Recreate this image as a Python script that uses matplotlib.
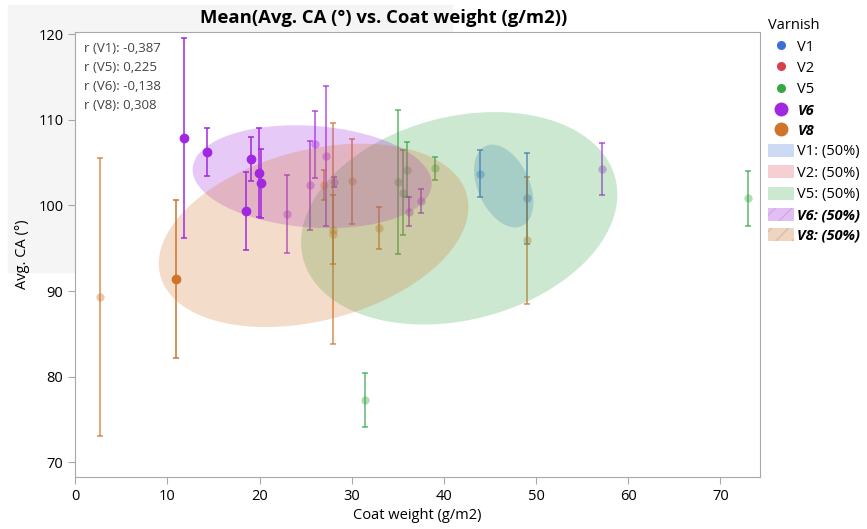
import numpy as np
import matplotlib
matplotlib.use('Agg')
import matplotlib.pyplot as plt
from matplotlib.lines import Line2D
from matplotlib.patches import Patch, Rectangle

plt.rcParams['font.family'] = ['Open Sans', 'DejaVu Sans']

# group means of Avg. CA with error (half bar length), per varnish
v1_x = [43.96, 48.99]
v1_y = [103.71, 100.83]
v1_err = [2.72, 5.33]

v5_x = [31.48, 34.99, 35.6, 35.97, 39.0, 73.0]
v5_y = [77.26, 102.7, 101.5, 104.17, 104.33, 100.86]
v5_err = [3.14, 8.4, 4.92, 3.23, 1.37, 3.2]

v6_x = [11.76, 14.3, 19.07, 19.97, 20.15, 18.56, 22.98, 25.46, 25.98, 27.17, 28.08, 37.49, 36.18, 57.2]
v6_y = [107.87, 106.2, 105.4, 103.83, 102.58, 99.35, 99.0, 102.38, 107.16, 105.76, 102.73, 100.51, 99.28, 104.25]
v6_err = [11.65, 2.8, 2.6, 5.2, 4.05, 4.5, 4.55, 5.2, 3.9, 8.2, 0.6, 1.38, 1.7, 3.03]
v6_sel = [1, 1, 1, 1, 1, 1, 0, 0, 0, 0, 0, 0, 0, 0]

v8_x = [2.68, 10.96, 26.99, 27.97, 27.97, 30.0, 33.0, 48.99]
v8_y = [89.31, 91.41, 102.38, 96.69, 97.19, 102.81, 97.36, 95.93]
v8_err = [16.2, 9.2, 1.75, 12.9, 4.0, 4.95, 2.5, 7.4]
v8_sel = [0, 1, 0, 0, 0, 0, 0, 0]

# 50% density ellipses: centre, half extents, correlation
ell_names = ['V1', 'V5', 'V6', 'V8']
ell_cx = [46.49, 41.66, 25.7, 25.86]
ell_cy = [102.27, 98.5, 103.36, 96.51]
ell_hx = [3.22, 17.16, 12.97, 16.8]
ell_hy = [4.83, 12.4, 6.0, 10.7]
ell_r = [-0.387, 0.225, -0.138, 0.308]

varnishes = ['V1', 'V2', 'V5', 'V6', 'V8']
colors = {'V1': '#3b6fd6', 'V2': '#d8404f', 'V5': '#36a744', 'V6': '#a128e0', 'V8': '#d0742a'}

fig = plt.figure(figsize=(8.67, 5.29), dpi=100)
fig.patches.append(Rectangle((8/867, 1-272/529), 444/867, 267/529, transform=fig.transFigure,
                             color='#f5f5f5', zorder=-1))
ax = fig.add_axes([75.3/867, 1-477/529, (760-75.3)/867, (477-32)/529])

t = np.linspace(0, 2*np.pi, 200)
for n, cx, cy, hx, hy, r in zip(ell_names, ell_cx, ell_cy, ell_hx, ell_hy, ell_r):
    ex = cx + hx*np.cos(t)
    ey = cy + hy*(r*np.cos(t) + np.sqrt(1-r**2)*np.sin(t))
    ax.fill(ex, ey, color=colors[n], alpha=0.25, lw=0, zorder=3)

def draw(xs, ys, errs, name, sel=None):
    c = colors[name]
    if sel is None:
        sel = [0]*len(xs)
    for x, y, e, s in zip(xs, ys, errs, sel):
        if s:
            ax.errorbar(x, y, yerr=e, fmt='o', color=c, ms=6, elinewidth=1.1, capsize=2, capthick=1.1, zorder=4)
        else:
            ax.errorbar(x, y, yerr=e, fmt='none', ecolor=c, alpha=0.8, elinewidth=1.1, capsize=2, capthick=1.1, zorder=2)
            ax.plot(x, y, 'o', color=c, alpha=0.38, ms=6, mew=0, zorder=2)

draw(v1_x, v1_y, v1_err, 'V1')
draw(v5_x, v5_y, v5_err, 'V5')
draw(v6_x, v6_y, v6_err, 'V6', v6_sel)
draw(v8_x, v8_y, v8_err, 'V8', v8_sel)

ax.set_xlim(0, 74.3)
ax.set_ylim(68.3, 120.25)
ax.set_xticks([0, 10, 20, 30, 40, 50, 60, 70])
ax.set_yticks([70, 80, 90, 100, 110, 120])
for s in ax.spines.values():
    s.set_color('#a8a8a8')
ax.tick_params(colors='#a8a8a8', labelcolor='black', labelsize=10.5, length=5)
ax.set_xlabel('Coat weight (g/m2)', fontsize=10.5, labelpad=3)
ax.set_ylabel('Avg. CA (°)', fontsize=10.5, labelpad=6)

r_lines = ['r (V1): -0,387', 'r (V5): 0,225', 'r (V6): -0,138', 'r (V8): 0,308']
for i, s in enumerate(r_lines):
    ax.text(0.013, 0.964 - i*0.0434, s, transform=ax.transAxes, fontsize=9.5, color='#444444', va='center')

fig.text(383.5/867, 1-18/529, 'Mean(Avg. CA (°) vs. Coat weight (g/m2))', ha='center', va='center',
         fontsize=13.3, fontweight='bold')

handles = []
for v in varnishes:
    big = v in ('V6', 'V8')
    handles.append(Line2D([], [], ls='none', marker='o', color=colors[v], ms=9 if big else 5.5))
for v in varnishes:
    if v in ('V6', 'V8'):
        handles.append(Patch(facecolor=colors[v], alpha=0.3, hatch='//', edgecolor='#9a8a9a', lw=0))
    else:
        handles.append(Patch(facecolor=colors[v], alpha=0.25, lw=0))
labels = varnishes + [v + ': (50%)' for v in varnishes]
leg = fig.legend(handles, labels, title='Varnish', loc='upper left', bbox_to_anchor=(758/867, 1-8/529),
                 frameon=False, fontsize=10.5, title_fontsize=10.5, handlelength=1.8, handleheight=1.0,
                 labelspacing=0.4, handletextpad=0.2, borderpad=0.2)
leg._legend_box.align = 'left'
for txt in leg.get_texts():
    if txt.get_text().startswith(('V6', 'V8')):
        txt.set_fontweight('bold')
        txt.set_fontstyle('italic')

fig.savefig('out.png', dpi=100)
